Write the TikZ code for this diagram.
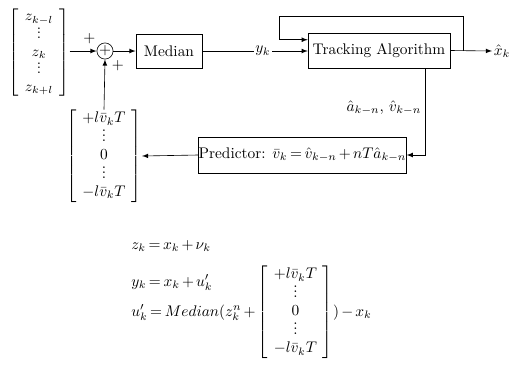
\documentclass[tikz,border=0pt]{standalone}
\usepackage{amsmath}
\thickmuskip=3mu plus 2mu
\medmuskip=2.5mu plus 1mu minus 1mu
\newcommand{\sdots}{\vbox{\baselineskip3.2pt\lineskiplimit0pt\hbox{.}\hbox{.}\hbox{.}}}
\newcommand{\colvec}[1]{{\delimitershortfall=0pt\left[\mskip7mu\begin{array}{@{}c@{}}#1\end{array}\mskip7mu\right]}}
\begin{document}
\begin{tikzpicture}[>=latex,x=0.65pt,y=-0.65pt,thin]
    \tikzset{blockbox/.style={draw,minimum height=22pt,inner xsep=3pt}}
    \useasboundingbox (0,0) rectangle (513,367);
    % measurement window and the summing point
    \node[inner sep=0pt,yscale=0.95] (vecz) at (39,52.5) {$\colvec{z_{k-l}\\ \sdots\\ z_k\\ \sdots\\ z_{k+l}}$};
    \node[draw,circle,inner sep=0pt,minimum size=10.5pt,
          label={[inner sep=0pt,label distance=2pt]145:$+$},
          label={[inner sep=0pt,label distance=2pt]-55:$+$}] (sum) at (105,51) {$+$};
    \node[blockbox,minimum width=43pt] (median) at (169,51) {Median};
    \node[inner sep=1pt] (yk) at (263,51) {$y_k$};
    \node[blockbox,minimum width=92pt,minimum height=23pt] (track) at (379,50.5) {Tracking Algorithm};
    \node[inner sep=1pt,anchor=west] (xhat) at (492,51) {$\hat{x}_k$};
    \draw[->] (sum.west -| vecz.east) -- (sum.west);
    \draw[->] (sum.east) -- (median.west);
    \draw (median.east) -- (yk.west);
    \draw[->] (yk.east) -- (yk.east -| track.west);
    \draw[->] (track.east) -- (xhat.west);
    % feedback round the tracker
    \coordinate (tap) at (463,51);
    \coordinate (fbin) at ([yshift=7pt]track.west);
    \draw[->] (tap) |- (279,16) |- (fbin);
    % predictor branch
    \node[blockbox,minimum height=23.5pt,inner xsep=0pt] (pred) at (302.5,155) {Predictor: $\bar{v}_k=\hat{v}_{k-n}+nT\hat{a}_{k-n}$};
    \node[inner sep=0pt] (vecv) at (104,156) {$\colvec{+l\bar{v}_kT\\ \sdots\\ 0\\ \sdots\\ -l\bar{v}_kT}$};
    \node[anchor=east,inner sep=1pt] (est) at (423,108) {$\hat{a}_{k-n},\,\hat{v}_{k-n}$};
    \draw[->] ([xshift=30pt]track.south) |- (pred.east);
    \draw[->] (pred.west) -- (vecv.east);
    \draw[->] (vecv.north) -- (sum.south);
    % equations
    \node[anchor=base west,inner sep=0pt] (eqz) at (131,249) {$z_k=x_k+\nu_k$};
    \node[anchor=base west,inner sep=0pt] (eqy) at (131,286) {$y_k=x_k+u'_k$};
    \node[anchor=base west,inner sep=0pt] (equ) at (131,316) {$u'_k=Median(z_k^n+\colvec{+l\bar{v}_kT\\ \sdots\\ 0\\ \sdots\\ -l\bar{v}_kT})-x_k$};
\end{tikzpicture}
\end{document}
